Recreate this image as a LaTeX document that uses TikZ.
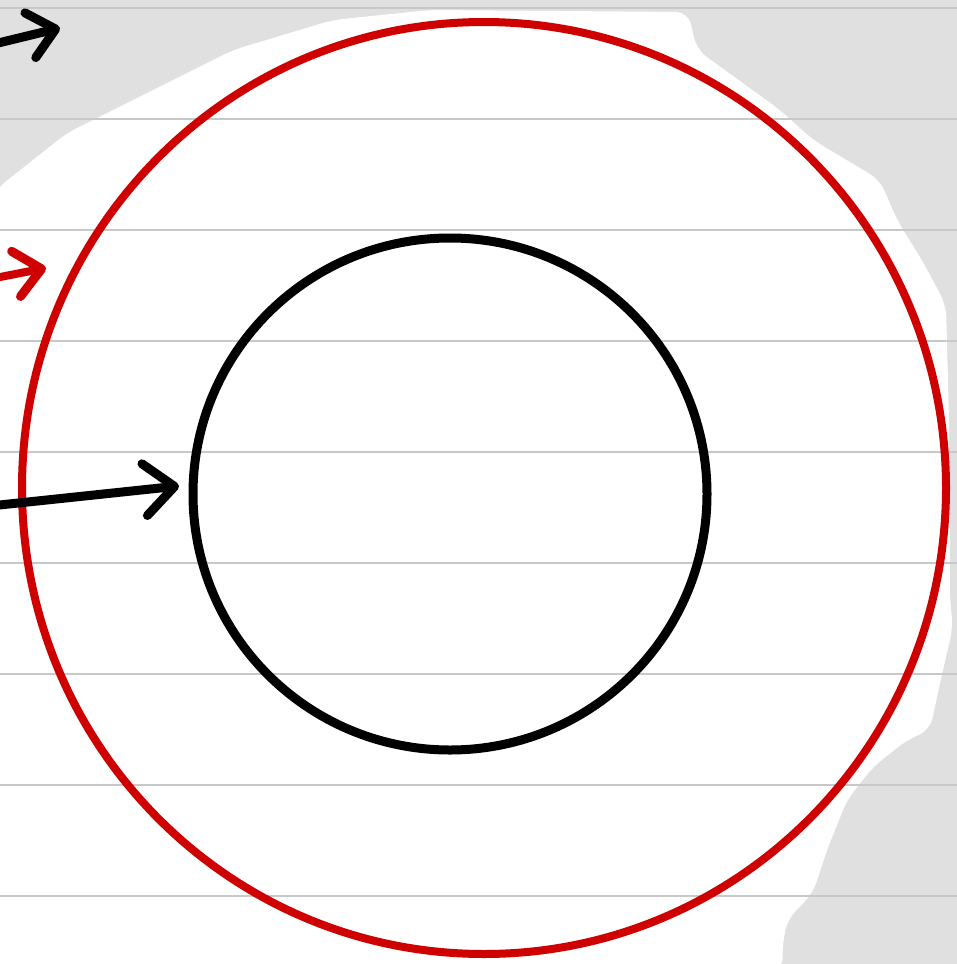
\documentclass[tikz,border=0pt]{standalone}
\usetikzlibrary{arrows.meta,shapes.geometric}
\definecolor{paper}{RGB}{224,224,224}
\definecolor{rule}{RGB}{200,200,200}
\definecolor{penred}{RGB}{206,0,0}
\tikzset{
  ring/.style={ellipse,draw,line width=9pt,inner sep=0pt,fill=none},
  pointer/.style={line width=9pt,line cap=round,line join=round,
    -{Straight Barb[length=26pt,width=46pt,line width=9pt,round]}},
  bigpointer/.style={pointer,
    -{Straight Barb[length=30pt,width=52pt,line width=9pt,round]}},
  ruleline/.style={rule,line width=2pt}
}
\begin{document}
\begin{tikzpicture}[x=1pt,y=-1pt]
\useasboundingbox (0,0) rectangle (957,964);
% paper background
\fill[paper] (0,0) rectangle (957,964);
% white cleared region
\fill[white,rounded corners=12pt] (430,10) -- (688,12) -- (697,50) -- (780,110) -- (813,140) -- (880,180)
  -- (897,220) -- (923,262) -- (946,305) -- (949,420) -- (950,600) -- (953,627)
  -- (940,683) -- (930,730) -- (907,740) -- (873,767) -- (847,800) -- (827,850)
  -- (813,893) -- (787,920) -- (782,950) -- (783,970) -- (-5,970) -- (-5,190)
  -- (33,160) -- (67,133) -- (133,100) -- (233,50) -- (333,20) -- cycle;
% ruled lines
\foreach \yy in {8,119,230,341,452,563,674,785,896}
  \draw[ruleline] (0,\yy) -- (957,\yy);
% circles
\node[ring,draw=penred,line width=8pt,minimum width=924pt,minimum height=932pt] (outer) at (484,488) {};
\node[ring,draw=black,minimum width=514pt,minimum height=512pt] (inner) at (450,494) {};
% arrows
\coordinate (t1) at (-10,45);
\coordinate (h1) at (60,28);
\coordinate (t2) at (-10,279);
\coordinate (h2) at (46,268);
\coordinate (t3) at (-10,506);
\coordinate (h3) at (179,486);
\draw[pointer] (t1) -- (h1);
\draw[pointer,penred,line width=8pt] (t2) -- (h2);
\draw[bigpointer] (t3) -- (h3);
\end{tikzpicture}
\end{document}
